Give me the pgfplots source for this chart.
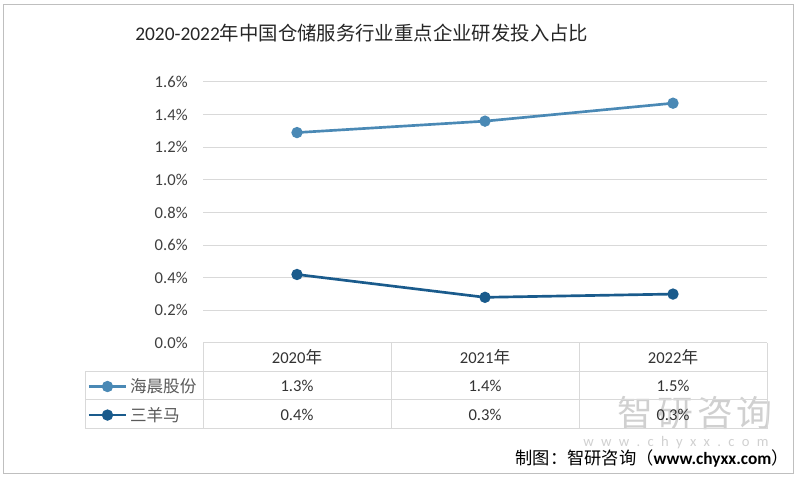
\documentclass[border=0pt]{standalone}
\usepackage{fontspec}
\setmainfont{Carlito}
\newfontfamily\cjk{Noto Sans CJK SC}
\usepackage{pgfplots}
\pgfplotsset{compat=1.18}

\definecolor{sone}{HTML}{4A89B5}
\definecolor{stwo}{HTML}{1A5B8C}
\definecolor{gridc}{HTML}{D9D9D9}
\definecolor{tickc}{HTML}{404040}
\definecolor{framec}{HTML}{BFBFBF}
\definecolor{wmark}{HTML}{D0D0D0}

\begin{document}
\begin{tikzpicture}
% page frame, title, watermark (1 unit = 1 px of the reference)
\begin{scope}[x=0.75bp,y=0.75bp]
  \path[use as bounding box] (0,0) rectangle (800,478);
  \draw[framec, line width=0.75bp] (3,4) rectangle (793,473);
  \node[anchor=west, inner sep=0, text=black!85, font=\fontsize{14.6}{17}\selectfont]
    at (135,445) {2020-2022{\cjk 年中国仓储服务行业重点企业研发投入占比}};
  \node[text=wmark, inner sep=0, font=\cjk\fontsize{27}{30}\selectfont]
    at (695,65) {智\hspace{3bp}研\hspace{3bp}咨\hspace{3bp}询};
  \node[text=wmark, inner sep=0, font=\fontsize{11}{13}\selectfont]
    at (676,35) {w\enspace w\enspace w\enspace .\enspace c\enspace h\enspace y\enspace x\enspace x\enspace .\enspace c\enspace o\enspace m};
\end{scope}

\begin{axis}[
  at={(152.25bp,101.25bp)}, anchor=south west,
  scale only axis, width=423bp, height=195.75bp,
  xmin=0.5, xmax=3.5, ymin=0, ymax=1.6,
  xtick=\empty,
  ytick={0,0.2,0.4,0.6,0.8,1.0,1.2,1.4,1.6},
  ymajorgrids, grid style={gridc, line width=0.75bp},
  axis line style={draw=none},
  major tick length=0pt,
  /pgf/number format/assume math mode=true,
  yticklabel={\pgfmathprintnumber[fixed,fixed zerofill,precision=1]{\tick}\%},
  yticklabel style={font=\fontsize{12.5}{14}\selectfont, text=tickc, xshift=-8bp},
  clip=false,
  legend style={at={(-0.2074,-0.1111)}, anchor=north west, draw=none, fill=none,
    inner xsep=1bp, inner ysep=0pt, row sep=0pt, column sep=2bp,
    font=\fontsize{12.5}{14}\selectfont, text=black!65,
    nodes={inner sep=0pt, minimum height=21.4bp}},
  legend cell align=left,
  legend image code/.code={%
    \draw[mark repeat=2,mark phase=2] plot coordinates {(0bp,0bp) (13.9bp,0bp) (27.8bp,0bp)};},
]
\addplot[sone, line width=2bp, mark=*, mark size=3.2bp] coordinates {
  (1,1.29) (2,1.36) (3,1.47)};
\addlegendentry{\cjk 海晨股份}
\addplot[stwo, line width=2bp, mark=*, mark size=3.2bp] coordinates {
  (1,0.42) (2,0.28) (3,0.30)};
\addlegendentry{\cjk 三羊马}
\end{axis}

% data table below the plot
\begin{scope}[x=0.75bp,y=0.75bp]
  \draw[gridc, line width=0.75bp]
    (85,106) -- (767,106)
    (85,78) -- (767,78)
    (85,49) -- (767,49)
    (85,106) -- (85,49)
    (203,135) -- (203,49)
    (391,135) -- (391,49)
    (579,135) -- (579,49)
    (767,135) -- (767,49);
  \begin{scope}[every node/.style={inner sep=0, text=black!80, font=\fontsize{12.5}{14}\selectfont}]
    \node at (297,120.5) {2020{\cjk 年}};
    \node at (485,120.5) {2021{\cjk 年}};
    \node at (673,120.5) {2022{\cjk 年}};
    \node at (297,92) {1.3\%};
    \node at (485,92) {1.4\%};
    \node at (673,92) {1.5\%};
    \node at (297,63.5) {0.4\%};
    \node at (485,63.5) {0.3\%};
    \node at (673,63.5) {0.3\%};
  \end{scope}
  \node[anchor=east, inner sep=0, text=black, font=\fontsize{13}{15}\selectfont]
    at (789,20) {{\cjk 制图：智研咨询（}\textbf{www.chyxx.com}{\cjk ）}};
\end{scope}
\end{tikzpicture}
\end{document}
